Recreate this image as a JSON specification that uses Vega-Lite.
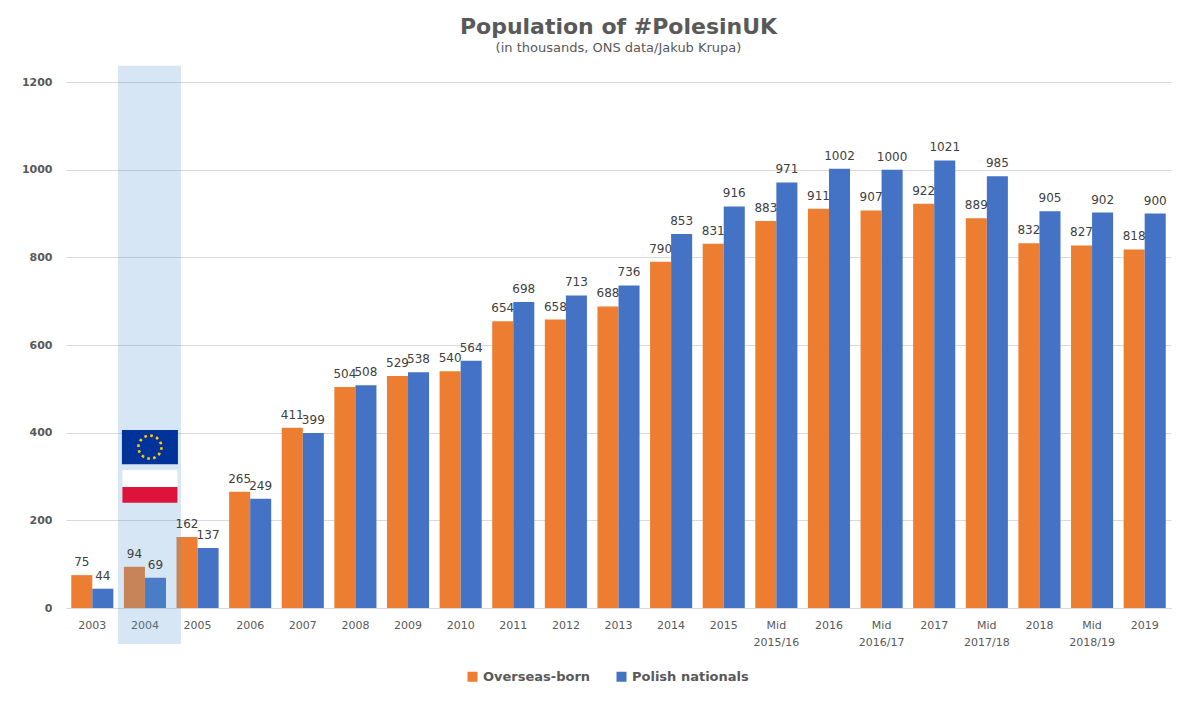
{
  "$schema": "https://vega.github.io/schema/vega-lite/v6.json",
  "width": 1105,
  "height": 526,
  "autosize": {"type": "none"},
  "padding": {"left": 66, "top": 82, "right": 20, "bottom": 104},
  "background": "white",
  "title": {
    "text": "Population of #PolesinUK",
    "subtitle": "(in thousands, ONS data/Jakub Krupa)",
    "font": "DejaVu Sans",
    "fontSize": 22,
    "fontWeight": "bold",
    "color": "#595959",
    "subtitleFont": "DejaVu Sans",
    "subtitleFontSize": 13,
    "subtitleColor": "#595959",
    "subtitlePadding": 3,
    "anchor": "middle",
    "offset": 10
  },
  "datasets": {
    "pop": [
      {"period": "2003", "series": "Overseas-born", "value": 75},
      {"period": "2003", "series": "Polish nationals", "value": 44},
      {"period": "2004", "series": "Overseas-born", "value": 94},
      {"period": "2004", "series": "Polish nationals", "value": 69},
      {"period": "2005", "series": "Overseas-born", "value": 162},
      {"period": "2005", "series": "Polish nationals", "value": 137},
      {"period": "2006", "series": "Overseas-born", "value": 265},
      {"period": "2006", "series": "Polish nationals", "value": 249},
      {"period": "2007", "series": "Overseas-born", "value": 411},
      {"period": "2007", "series": "Polish nationals", "value": 399},
      {"period": "2008", "series": "Overseas-born", "value": 504},
      {"period": "2008", "series": "Polish nationals", "value": 508},
      {"period": "2009", "series": "Overseas-born", "value": 529},
      {"period": "2009", "series": "Polish nationals", "value": 538},
      {"period": "2010", "series": "Overseas-born", "value": 540},
      {"period": "2010", "series": "Polish nationals", "value": 564},
      {"period": "2011", "series": "Overseas-born", "value": 654},
      {"period": "2011", "series": "Polish nationals", "value": 698},
      {"period": "2012", "series": "Overseas-born", "value": 658},
      {"period": "2012", "series": "Polish nationals", "value": 713},
      {"period": "2013", "series": "Overseas-born", "value": 688},
      {"period": "2013", "series": "Polish nationals", "value": 736},
      {"period": "2014", "series": "Overseas-born", "value": 790},
      {"period": "2014", "series": "Polish nationals", "value": 853},
      {"period": "2015", "series": "Overseas-born", "value": 831},
      {"period": "2015", "series": "Polish nationals", "value": 916},
      {"period": "Mid 2015/16", "series": "Overseas-born", "value": 883},
      {"period": "Mid 2015/16", "series": "Polish nationals", "value": 971},
      {"period": "2016", "series": "Overseas-born", "value": 911},
      {"period": "2016", "series": "Polish nationals", "value": 1002},
      {"period": "Mid 2016/17", "series": "Overseas-born", "value": 907},
      {"period": "Mid 2016/17", "series": "Polish nationals", "value": 1000},
      {"period": "2017", "series": "Overseas-born", "value": 922},
      {"period": "2017", "series": "Polish nationals", "value": 1021},
      {"period": "Mid 2017/18", "series": "Overseas-born", "value": 889},
      {"period": "Mid 2017/18", "series": "Polish nationals", "value": 985},
      {"period": "2018", "series": "Overseas-born", "value": 832},
      {"period": "2018", "series": "Polish nationals", "value": 905},
      {"period": "Mid 2018/19", "series": "Overseas-born", "value": 827},
      {"period": "Mid 2018/19", "series": "Polish nationals", "value": 902},
      {"period": "2019", "series": "Overseas-born", "value": 818},
      {"period": "2019", "series": "Polish nationals", "value": 900}
    ],
    "accession": [
      {"period": "2004"}
    ]
  },
  "data": {"name": "pop"},
  "encoding": {
    "x": {
      "field": "period",
      "type": "nominal",
      "sort": null,
      "title": null,
      "scale": {"paddingInner": 0.2, "paddingOuter": 0.1},
      "axis": {
        "labelAngle": 0,
        "ticks": false,
        "grid": false,
        "domainColor": "#d9d9d9",
        "labelFont": "DejaVu Sans",
        "labelFontSize": 11,
        "labelColor": "#595959",
        "labelPadding": 11,
        "labelLineHeight": 17,
        "labelExpr": "split(datum.value, ' ')"
      }
    }
  },
  "layer": [
    {
      "mark": {"type": "bar"},
      "encoding": {
        "y": {
          "field": "value",
          "type": "quantitative",
          "title": null,
          "scale": {"domain": [0, 1200], "nice": false},
          "axis": {
            "values": [0, 200, 400, 600, 800, 1000, 1200],
            "format": "d",
            "domain": false,
            "ticks": false,
            "gridColor": "#d9d9d9",
            "labelFont": "DejaVu Sans",
            "labelFontSize": 11,
            "labelFontWeight": "bold",
            "labelColor": "#595959",
            "labelPadding": 14
          }
        },
        "xOffset": {
          "field": "series",
          "type": "nominal",
          "sort": ["Overseas-born", "Polish nationals"],
          "scale": {"paddingInner": 0, "paddingOuter": 0}
        },
        "color": {
          "field": "series",
          "type": "nominal",
          "title": null,
          "scale": {
            "domain": ["Overseas-born", "Polish nationals"],
            "range": ["#ed7d31", "#4472c4"]
          },
          "legend": {
            "orient": "none",
            "legendX": 400,
            "legendY": 588,
            "direction": "horizontal",
            "symbolType": "square",
            "symbolSize": 100,
            "symbolStrokeWidth": 0,
            "labelFont": "DejaVu Sans",
            "labelFontSize": 13,
            "labelFontWeight": "bold",
            "labelColor": "#595959",
            "labelOffset": 4,
            "columnPadding": 24
          }
        }
      }
    },
    {
      "data": {"name": "accession"},
      "mark": {"type": "bar", "width": 63, "xOffset": 4.5, "fill": "#5b9bd5", "fillOpacity": 0.25},
      "encoding": {
        "y": {"datum": 1237},
        "y2": {"datum": -82}
      }
    },
    {
      "data": {"name": "accession"},
      "mark": {"type": "bar", "width": 56, "xOffset": 5, "color": "#003399"},
      "encoding": {
        "y": {"datum": 406},
        "y2": {"datum": 328}
      }
    },
    {
      "data": {"name": "accession"},
      "mark": {"type": "point", "shape": "circle", "filled": false, "xOffset": 5, "size": 529, "stroke": "#ffcc00", "strokeWidth": 2.6, "strokeDash": [2.6, 3.42], "opacity": 1},
      "encoding": {
        "y": {"datum": 367}
      }
    },
    {
      "data": {"name": "accession"},
      "mark": {"type": "bar", "width": 55, "xOffset": 5, "color": "#ffffff"},
      "encoding": {
        "y": {"datum": 315},
        "y2": {"datum": 276}
      }
    },
    {
      "data": {"name": "accession"},
      "mark": {"type": "bar", "width": 55, "xOffset": 5, "color": "#dc143c"},
      "encoding": {
        "y": {"datum": 276},
        "y2": {"datum": 240}
      }
    },
    {
      "mark": {"type": "text", "baseline": "bottom", "dy": -6, "font": "DejaVu Sans", "fontSize": 12, "color": "#404040"},
      "encoding": {
        "y": {"field": "value", "type": "quantitative"},
        "xOffset": {"field": "series", "type": "nominal", "sort": ["Overseas-born", "Polish nationals"]},
        "text": {"field": "value", "type": "quantitative"}
      }
    }
  ],
  "config": {
    "view": {"stroke": null}
  }
}
